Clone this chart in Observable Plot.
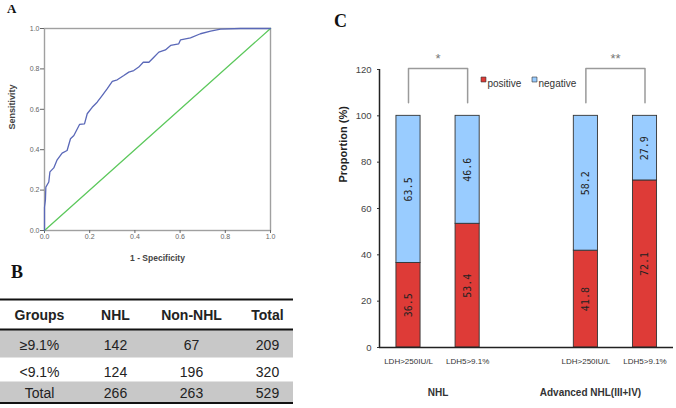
<!DOCTYPE html>
<html><head><meta charset="utf-8">
<script src="https://cdn.jsdelivr.net/npm/d3@7"></script>
<script src="https://cdn.jsdelivr.net/npm/@observablehq/plot@0.6"></script>
<style>
html,body{margin:0;padding:0;background:#fff;}
#wrap{position:relative;width:676px;height:408px;overflow:hidden;background:#fff;}
#wrap svg{position:absolute;left:0;top:0;}
.lbl{position:absolute;font-family:"Liberation Serif","Times New Roman",serif;font-weight:bold;color:#111;line-height:1;}
</style></head><body>
<div id="wrap">
<div class="lbl" style="left:7px;top:2px;font-size:13px">A</div>
<div class="lbl" style="left:11px;top:263px;font-size:18px">B</div>
<div class="lbl" style="left:334px;top:12px;font-size:18px">C</div>
</div>
<script>
// ---------- Panel A: ROC curve ----------
const rocFpr = [0,0,0.004,0.006,0.019,0.024,0.041,0.056,0.078,0.10,0.115,0.13,0.155,0.177,0.189,0.211,0.233,0.255,0.277,0.30,0.322,0.351,0.373,0.395,0.417,0.437,0.462,0.484,0.506,0.535,0.558,0.594,0.602,0.646,0.69,0.735,0.779,0.867,1.0];
const rocTpr = [0,0.115,0.15,0.215,0.24,0.29,0.31,0.35,0.383,0.396,0.454,0.47,0.525,0.528,0.578,0.61,0.635,0.668,0.701,0.738,0.746,0.767,0.784,0.792,0.809,0.833,0.833,0.858,0.883,0.894,0.916,0.924,0.944,0.954,0.974,0.987,0.997,1.0,1.0];
const refLine = [0, 1];
const rocTicks = [0, 0.2, 0.4, 0.6, 0.8, 1.0];
const rocXLabel = "1 - Specificity";
const rocYLabel = "Sensitivity";

// ---------- Panel B: table ----------
const tableCols = ["Groups", "NHL", "Non-NHL", "Total"];
const tableRowLabels = ["≥9.1%", "<9.1%", "Total"];
const nhlCounts = [142, 124, 266];
const nonNhlCounts = [67, 196, 263];
const totalCounts = [209, 320, 529];

// ---------- Panel C: stacked bars ----------
const groups = ["NHL", "Advanced NHL(III+IV)"];
const markers = ["LDH>250IU/L", "LDH5>9.1%"];
const statuses = ["positive", "negative"];
const positivePct = [36.5, 53.4, 41.8, 72.1];
const negativePct = [63.5, 46.6, 58.2, 27.9];
const significance = ["*", "**"];
const yTicksC = [0, 20, 40, 60, 80, 100, 120];
const yLabelC = "Proportion (%)";

const W = 676, H = 408;
const sans = "'Liberation Sans',Arial,sans-serif";
const wrap = document.getElementById("wrap");

// Panel A
const rocData = rocFpr.map((f, i) => ({fpr: f, tpr: rocTpr[i]}));
const plotA = Plot.plot({
  width: W, height: H,
  marginLeft: 44, marginRight: W - 270, marginTop: 28, marginBottom: H - 230,
  style: {background: "transparent", color: "#666", fontFamily: sans},
  x: {domain: [0, 1]}, y: {domain: [0, 1]},
  marks: [
    Plot.frame({stroke: "#a0a0a0", strokeWidth: 1.4}),
    Plot.axisX({ticks: rocTicks, tickFormat: d3.format(".1f"), tickSize: 3, tickPadding: 1, fontSize: 7, label: null}),
    Plot.axisY({ticks: rocTicks, tickFormat: d3.format(".1f"), tickSize: 4, tickPadding: 1, fontSize: 7, label: null}),
    Plot.line(refLine, {x: d => d, y: d => d, stroke: "#5cc85c", strokeWidth: 1.3}),
    Plot.line(rocData, {x: "fpr", y: "tpr", stroke: "#5a68b8", strokeWidth: 1.3}),
    Plot.text([rocXLabel], {frameAnchor: "bottom", dy: 30, fontSize: 8.5, fontWeight: "bold", fill: "#444"}),
    Plot.text([rocYLabel], {frameAnchor: "left", dx: -32, rotate: -90, fontSize: 9, fontWeight: "bold", fill: "#444"})
  ]
});
wrap.appendChild(plotA);

// Panel B
const headerCells = tableCols.map((c, j) => ({col: c, row: 0, text: c}));
const bodyCells = [];
tableRowLabels.forEach((r, i) => {
  const vals = [r, nhlCounts[i], nonNhlCounts[i], totalCounts[i]];
  vals.forEach((v, j) => bodyCells.push({col: tableCols[j], row: i + 1, text: String(v)}));
});
const shadedRows = d3.range(1, tableRowLabels.length + 1).filter(i => i % 2 === 1);
const plotB = Plot.plot({
  width: W, height: H,
  marginLeft: 0, marginRight: W - 293, marginTop: 290, marginBottom: 0,
  style: {background: "transparent", color: "#111", fontFamily: sans},
  x: {type: "point", domain: tableCols, range: [38, 268], padding: 0, axis: null},
  y: {type: "linear", domain: [0, 1, 2, 3], range: [314, 344, 371, 392], axis: null},
  marks: [
    Plot.rect(shadedRows, {y1: d => d - 0.5, y2: d => d + 0.5, fill: "#c8c8c8"}),
    Plot.ruleY([-0.5, 0.5, tableRowLabels.length + 0.5], {stroke: "#111", strokeWidth: 2}),
    Plot.text(headerCells, {x: "col", y: "row", text: "text", dy: 1, fontSize: 14, fontWeight: "bold", fill: "#222"}),
    Plot.text(bodyCells, {x: "col", y: "row", text: "text", dy: 1, fontSize: 14, fill: "#222"})
  ]
});
wrap.appendChild(plotB);

// Panel C
const slotOf = (g, m) => g * (markers.length + 1) + m;
const barData = [];
groups.forEach((g, gi) => markers.forEach((m, mi) => {
  const k = gi * markers.length + mi;
  const vals = [positivePct[k], negativePct[k]];
  const cum = d3.cumsum(vals);
  statuses.forEach((s, si) => barData.push({
    group: g, marker: m, slot: slotOf(gi, mi), status: s, value: vals[si],
    y1: si ? cum[si - 1] : 0, y2: cum[si]
  }));
}));
const slots = groups.flatMap((g, gi) => markers.map((m, mi) => slotOf(gi, mi)));
const xDomC = [-0.4905, 4.482];
const halfBar = 0.204;
const brackets = groups.flatMap((g, gi) => {
  const a = slotOf(gi, 0), b = slotOf(gi, 1);
  return [[a, 105.6], [a, 120.4], [b, 120.4], [b, 105.6]].map(([x, y]) => ({g, x, y}));
});
const stars = groups.map((g, gi) => ({g, x: (slotOf(gi, 0) + slotOf(gi, 1)) / 2, text: significance[gi]}));
const colorC = {domain: statuses, range: ["#de3b37", "#99ccff"]};

const plotC = Plot.plot({
  width: W, height: H,
  marginLeft: 379, marginRight: 3, marginTop: 69, marginBottom: H - 347,
  style: {background: "transparent", color: "#333", fontFamily: sans},
  x: {domain: xDomC},
  y: {domain: [0, 120]},
  color: colorC,
  marks: [
    Plot.rectY(barData, {x1: d => d.slot - halfBar, x2: d => d.slot + halfBar, y1: "y1", y2: "y2", fill: "status", stroke: "#333", strokeWidth: 0.9}),
    Plot.text(barData, {x: "slot", y: d => (d.y1 + d.y2) / 2, text: d => d.value.toFixed(1), rotate: -90, fontSize: 10, fontFamily: "'DejaVu Sans Mono','Liberation Mono',monospace", fill: "#222"}),
    Plot.ruleY([0], {stroke: "#222", strokeWidth: 1.5}),
    Plot.ruleX([xDomC[0]], {stroke: "#222", strokeWidth: 1.5}),
    Plot.axisY({ticks: yTicksC, tickSize: 2, tickPadding: 6, fontSize: 9.5, label: null, fill: "#444"}),
    Plot.axisX({ticks: slots, tickFormat: d => markers[d % (markers.length + 1)], tickSize: 0, tickPadding: 11, fontSize: 8, label: null, fill: "#333"}),
    Plot.line(brackets, {x: "x", y: "y", z: "g", stroke: "#9a9a9a", strokeWidth: 1.5}),
    Plot.text(stars, {x: "x", y: 126, text: "text", fontSize: 13, dy: 3, fill: "#777"}),
    Plot.text([groups[0]], {x: (slotOf(0,0) + slotOf(0,1)) / 2, frameAnchor: "bottom", dy: 48, fontSize: 10, fontWeight: "bold", fill: "#333"}),
    Plot.text([groups[1]], {x: (slotOf(1,0) + slotOf(1,1)) / 2, frameAnchor: "bottom", dy: 48, dx: -25, fontSize: 10, fontWeight: "bold", fill: "#333"}),
    Plot.text([yLabelC], {frameAnchor: "left", dx: -36, dy: -26, rotate: -90, fontSize: 11, fontWeight: "bold", fill: "#222"}),
    ...statuses.flatMap((s, i) => [
      Plot.dot([s], {frameAnchor: "top-left", dx: 104 + 51 * i, dy: 10, symbol: "square", r: 2.8, fill: d => d, stroke: "#333", strokeWidth: 0.6}),
      Plot.text([s], {frameAnchor: "top-left", dx: 108 + 51 * i, dy: 10, textAnchor: "start", fontSize: 10, fill: "#333"})
    ])
  ]
});
wrap.appendChild(plotC);
</script>
</body></html>
